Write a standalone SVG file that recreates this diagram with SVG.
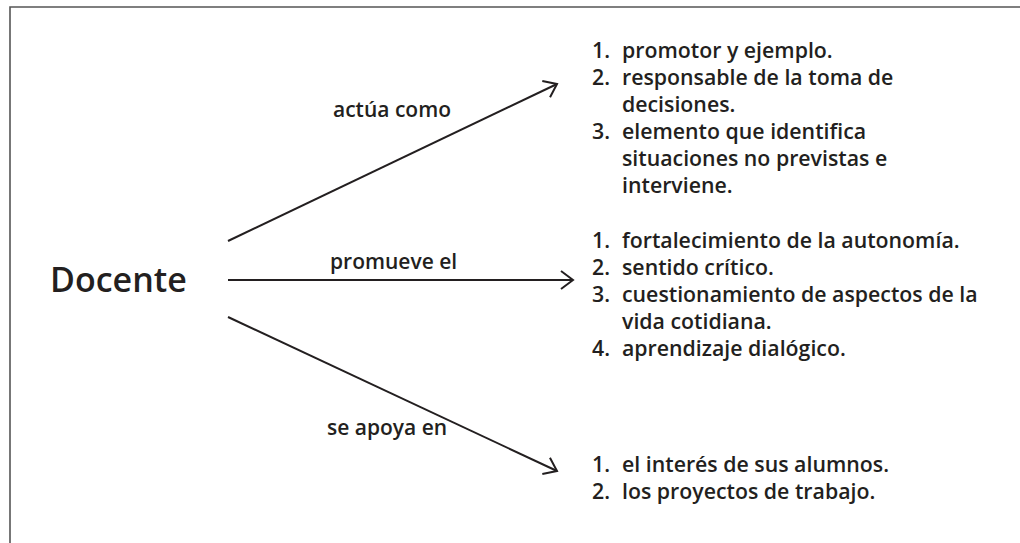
<svg xmlns="http://www.w3.org/2000/svg" width="1020" height="543" viewBox="0 0 1020 543">
<style>
text{font-family:"Open Sans","Noto Sans","DejaVu Sans",sans-serif;fill:#231f20;font-weight:600}
.lbl{font-size:21px}
.item{font-size:21.3px}
.main{font-size:34px;font-weight:600}
.conn{stroke:#231f20;stroke-width:2;fill:none}
</style>
<defs>
<marker id="arr" markerUnits="userSpaceOnUse" viewBox="-14 -11 16 22" refX="0" refY="0" markerWidth="16" markerHeight="22" orient="auto">
<path d="M-12,-9 L0,0 L-12,9" fill="none" stroke="#231f20" stroke-width="2"/>
</marker>
</defs>
<rect width="1020" height="543" fill="#ffffff"/>
<polyline points="10,543 10,7 1020,7" fill="none" stroke="#555555" stroke-width="1.6"/>
<g id="connectors">
<line class="conn" x1="228" y1="241" x2="557" y2="84" marker-end="url(#arr)"/>
<line class="conn" x1="228" y1="280" x2="573" y2="280" marker-end="url(#arr)"/>
<line class="conn" x1="228" y1="317" x2="557" y2="471" marker-end="url(#arr)"/>
<text class="lbl" x="333" y="117">actúa como</text>
<text class="lbl" x="330" y="269">promueve el</text>
<text class="lbl" x="327" y="435">se apoya en</text>
</g>
<g id="docente">
<text class="main" x="50" y="292">Docente</text>
</g>
<g id="rol">
<text class="item" y="58"><tspan x="592">1.</tspan><tspan x="622">promotor y ejemplo.</tspan></text>
<text class="item" y="85"><tspan x="592">2.</tspan><tspan x="622">responsable de la toma de</tspan></text>
<text class="item" y="112" x="622">decisiones.</text>
<text class="item" y="139"><tspan x="592">3.</tspan><tspan x="622">elemento que identifica</tspan></text>
<text class="item" y="166" x="622">situaciones no previstas e</text>
<text class="item" y="193" x="622">interviene.</text>
</g>
<g id="promueve">
<text class="item" y="248"><tspan x="592">1.</tspan><tspan x="622">fortalecimiento de la autonomía.</tspan></text>
<text class="item" y="275"><tspan x="592">2.</tspan><tspan x="622">sentido crítico.</tspan></text>
<text class="item" y="302"><tspan x="592">3.</tspan><tspan x="622">cuestionamiento de aspectos de la</tspan></text>
<text class="item" y="329" x="622">vida cotidiana.</text>
<text class="item" y="356"><tspan x="592">4.</tspan><tspan x="622">aprendizaje dialógico.</tspan></text>
</g>
<g id="apoyo">
<text class="item" y="472"><tspan x="592">1.</tspan><tspan x="622">el interés de sus alumnos.</tspan></text>
<text class="item" y="499"><tspan x="592">2.</tspan><tspan x="622">los proyectos de trabajo.</tspan></text>
</g>
</svg>
